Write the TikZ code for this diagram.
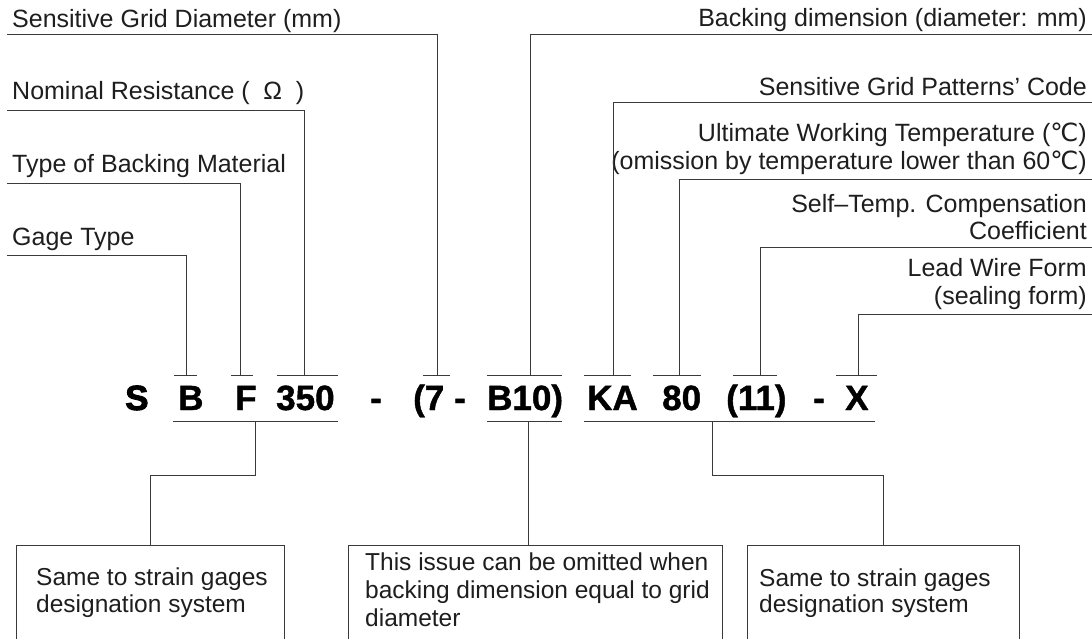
\documentclass[tikz,border=0pt]{standalone}
\usepackage{fontspec}
\setmainfont{Liberation Sans}
\newfontfamily\symfont{DejaVu Sans}
\newfontfamily\codefont[FakeBold=1.2]{Liberation Sans Bold}
\newfontfamily\codeheavy[FakeBold=2.6]{Liberation Sans Bold}
\newcommand{\degC}{{\symfont ℃}}
\definecolor{ink}{HTML}{1E1E1E}
\definecolor{wire}{HTML}{3A3A3A}

\begin{document}
\begin{tikzpicture}[x=1pt,y=-1pt,
  lead/.style={draw=wire, line width=1pt},
  lbl/.style={inner sep=0pt, text=ink, font=\fontsize{25}{28}\selectfont},
  lblL/.style={lbl, anchor=base west},
  lblR/.style={lbl, anchor=base east},
  note/.style={inner sep=0pt, text=ink, anchor=base west,
               font=\fontsize{24.5}{28}\selectfont},
  code/.style={inner sep=0pt, anchor=base west, text=black,
               font=\fontsize{35}{40}\codefont},
  notebox/.style={draw=wire, line width=1pt, anchor=north west,
                  inner sep=0pt, minimum height=140pt},
]
\useasboundingbox[fill=white] (0,0) rectangle (1092,639);

% ---------- designation code ----------
\node[code, font=\fontsize{35}{40}\codeheavy] (cS) at (125,410) {S};
\node[code] (cB)   at (178,410) {B};
\node[code] (cF)   at (235,410) {F};
\node[code] (c350) at (276,410) {350};
\node[code] (cd1)  at (370,410) {-};
\node[code] (c7)   at (413,410) {(7};
\node[code] (cd2)  at (454,410) {-};
\node[code] (cB10) at (487,410) {B10)};
\node[code] (cKA)  at (587,410) {KA};
\node[code] (c80)  at (662,410) {80};
\node[code] (c11)  at (726,410) {(11)};
\node[code] (cd3)  at (813,410) {-};
\node[code] (cX)   at (845,410) {X};

% ---------- small brackets above the code ----------
\coordinate (tB)   at (186,375);
\coordinate (tF)   at (240,375);
\coordinate (t350) at (304,375);
\coordinate (t7)   at (437,375);
\coordinate (tB10) at (530,375);
\coordinate (tKA)  at (613,375);
\coordinate (t80)  at (679,375);
\coordinate (t11)  at (760,375);
\coordinate (tX)   at (858,375);
\draw[lead] (174,375) -- (197,375);
\draw[lead] (231,375) -- (253,375);
\draw[lead] (277,375) -- (338,375);
\draw[lead] (423,375) -- (450,375);
\draw[lead] (487,375) -- (562,375);
\draw[lead] (584,375) -- (631,375);
\draw[lead] (653,375) -- (701,375);
\draw[lead] (733,375) -- (777,375);
\draw[lead] (836,375) -- (877,375);

% ---------- labels on the left ----------
\node[lblL] (sgd) at (12,28)  {Sensitive Grid Diameter (mm)};
\node[lblL] (nr)  at (12,100) {Nominal Resistance (\hspace{0.55em}Ω\hspace{0.55em})};
\node[lblL] (tbm) at (12,173) {Type of Backing Material};
\node[lblL] (gt)  at (12,245) {Gage Type};

\coordinate (sgdU) at (7,35);
\coordinate (nrU)  at (7,111);
\coordinate (tbmU) at (7,184);
\coordinate (gtU)  at (7,255);
\draw[lead] (sgdU) -| (t7);
\draw[lead] (nrU)  -| (t350);
\draw[lead] (tbmU) -| (tF);
\draw[lead] (gtU)  -| (tB);

% ---------- labels on the right ----------
\node[lblR] (bd)   at (1087,27)  {Backing dimension (diameter: mm)};
\node[lblR] (gpc)  at (1087,96)  {Sensitive Grid Patterns' Code};
\node[lblR] (uwt1) at (1087,142) {Ultimate Working Temperature (\degC)};
\node[lblR] (uwt2) at (1087,170) {(omission by temperature lower than 60\degC)};
\node[lblR] (stc1) at (1087,212) {Self–Temp. Compensation};
\node[lblR] (stc2) at (1087,240) {Coefficient};
\node[lblR] (lwf1) at (1087,276) {Lead Wire Form};
\node[lblR] (lwf2) at (1087,304) {(sealing form)};

\coordinate (bdU)  at (1092,35);
\coordinate (gpcU) at (1092,103);
\coordinate (uwtU) at (1092,180);
\coordinate (stcU) at (1092,247);
\coordinate (lwfU) at (1092,314);
\draw[lead] (bdU)  -| (tB10);
\draw[lead] (gpcU) -| (tKA);
\draw[lead] (uwtU) -| (t80);
\draw[lead] (stcU) -| (t11);
\draw[lead] (lwfU) -| (tX);

% ---------- note boxes (open towards the bottom edge) ----------
\node[notebox, minimum width=268pt] (box1) at (16,545) {};
\node[notebox, minimum width=374pt] (box2) at (348,545) {};
\node[notebox, minimum width=272pt] (box3) at (747,545) {};

\node[note] (n1a) at (36,585)  {Same to strain gages};
\node[note] (n1b) at (36,612)  {designation system};
\node[note] (n2a) at (365,570) {This issue can be omitted when};
\node[note] (n2b) at (365,598) {backing dimension equal to grid};
\node[note] (n2c) at (365,626) {diameter};
\node[note] (n3a) at (759,586) {Same to strain gages};
\node[note] (n3b) at (759,612) {designation system};

% ---------- brackets below the code ----------
\coordinate (g1) at (255,421);
\coordinate (g2) at (528,421);
\coordinate (g3) at (712,421);
\draw[lead] (173,421) -- (338,421);
\draw[lead] (487,421) -- (562,421);
\draw[lead] (584,421) -- (875,421);
\draw[lead] (g1) -- (g1 |- 0,475) -| (box1.north);
\draw[lead] (g2) -- (g2 |- box2.north);
\draw[lead] (g3) -- (g3 |- 0,475) -| (box3.north);
\end{tikzpicture}
\end{document}
